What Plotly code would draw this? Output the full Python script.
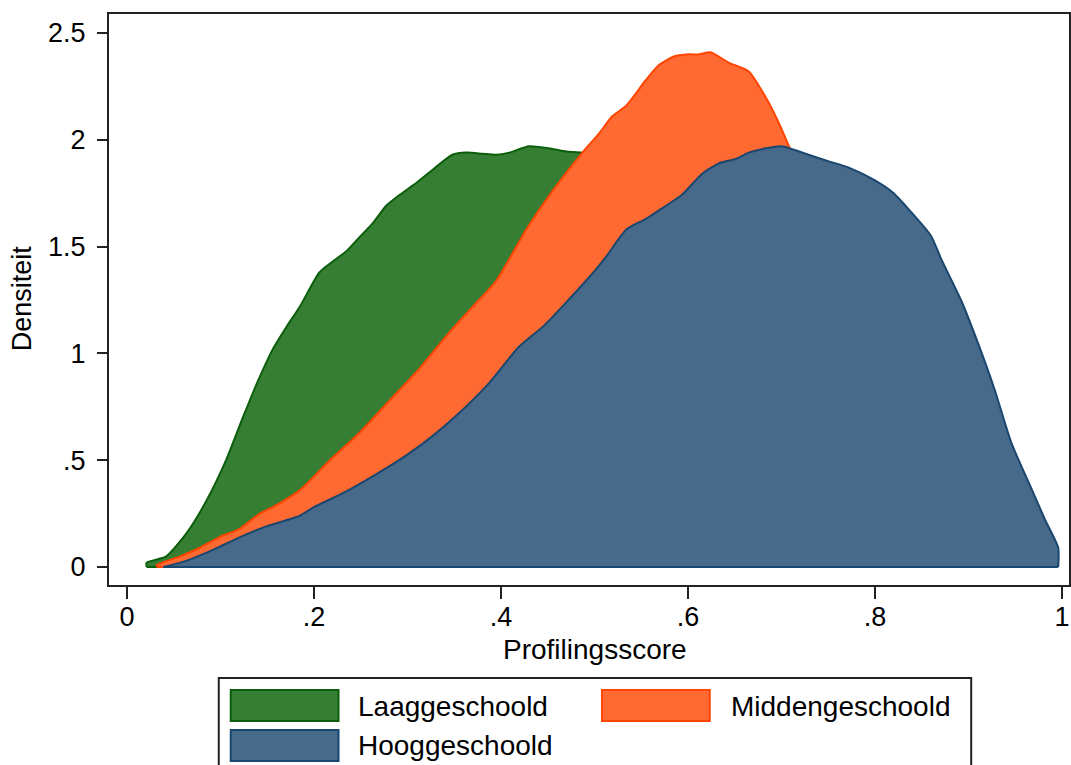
import plotly.graph_objects as go

# ---------------- data ----------------
low_x = [0.021, 0.021, 0.042, 0.064, 0.085, 0.106, 0.124, 0.140, 0.156, 0.170, 0.185,
         0.206, 0.220, 0.235, 0.250, 0.263, 0.277, 0.291, 0.310, 0.327, 0.348, 0.363,
         0.380, 0.395, 0.409, 0.430, 0.451, 0.470, 0.487, 0.520, 0.560, 0.600, 0.650,
         0.700, 0.750, 0.800, 0.850, 0.900, 0.950, 0.980, 0.980]
low_y = [0.00, 0.02, 0.05, 0.16, 0.31, 0.50, 0.70, 0.87, 1.02, 1.12, 1.22,
         1.38, 1.43, 1.48, 1.55, 1.61, 1.69, 1.74, 1.80, 1.86, 1.93, 1.94,
         1.935, 1.93, 1.94, 1.97, 1.96, 1.945, 1.94, 1.90, 1.82, 1.70, 1.50,
         1.25, 0.95, 0.68, 0.42, 0.20, 0.06, 0.02, 0.00]

mid_x = [0.032, 0.032, 0.057, 0.078, 0.099, 0.121, 0.142, 0.160, 0.185, 0.217, 0.249,
         0.281, 0.313, 0.345, 0.370, 0.395, 0.427, 0.455, 0.487, 0.505, 0.519, 0.534,
         0.555, 0.569, 0.585, 0.601, 0.612, 0.624, 0.644, 0.665, 0.683, 0.697, 0.708,
         0.720, 0.750, 0.800, 0.850, 0.900, 0.950, 0.980, 0.980]
mid_y = [0.00, 0.01, 0.05, 0.09, 0.14, 0.18, 0.25, 0.29, 0.36, 0.50, 0.63,
         0.78, 0.93, 1.10, 1.22, 1.34, 1.58, 1.76, 1.94, 2.03, 2.11, 2.16,
         2.28, 2.35, 2.39, 2.40, 2.40, 2.41, 2.36, 2.32, 2.20, 2.08, 1.97,
         1.85, 1.55, 1.05, 0.55, 0.22, 0.06, 0.01, 0.00]

high_x = [0.039, 0.064, 0.092, 0.121, 0.149, 0.185, 0.200, 0.233, 0.265, 0.291, 0.323,
          0.355, 0.387, 0.419, 0.446, 0.491, 0.512, 0.534, 0.555, 0.576, 0.593, 0.615,
          0.633, 0.651, 0.665, 0.683, 0.700, 0.729, 0.750, 0.772, 0.800, 0.820, 0.843,
          0.860, 0.871, 0.892, 0.910, 0.928, 0.946, 0.967, 0.982, 0.996, 0.996]
high_y = [0.00, 0.03, 0.08, 0.14, 0.19, 0.24, 0.28, 0.35, 0.43, 0.50, 0.60,
          0.72, 0.86, 1.03, 1.13, 1.34, 1.45, 1.58, 1.63, 1.69, 1.74, 1.84,
          1.89, 1.91, 1.94, 1.96, 1.97, 1.93, 1.90, 1.87, 1.81, 1.75, 1.64,
          1.55, 1.44, 1.25, 1.05, 0.83, 0.58, 0.37, 0.22, 0.09, 0.00]

series_names = ["Laaggeschoold", "Middengeschoold", "Hooggeschoold"]
x_ticks = [0, 0.2, 0.4, 0.6, 0.8, 1]
x_tick_labels = ["0", ".2", ".4", ".6", ".8", "1"]
y_ticks = [0, 0.5, 1, 1.5, 2, 2.5]
y_tick_labels = ["0", ".5", "1", "1.5", "2", "2.5"]
x_title = "Profilingsscore"
y_title = "Densiteit"

# ---------------- styles ----------------
FONT = "Liberation Sans, Arial, sans-serif"
fills = ["#367E33", "#FF6A32", "#476A8A"]
lines = ["#0B5E0B", "#FF4500", "#1A476F"]

W, H = 1071, 765
ML, MR, MT, MB = 109, 0, 14, 180
PW, PH = W - ML - MR, H - MT - MB


def px(xp):
    return (xp - ML) / PW


def py(yp):
    return (H - MB - yp) / PH


fig = go.Figure()
for xs, ys, name, fc, lc in zip([low_x, mid_x, high_x], [low_y, mid_y, high_y],
                                series_names, fills, lines):
    fig.add_trace(go.Scatter(
        x=xs, y=ys, mode="lines", fill="tozeroy",
        fillcolor=fc, line=dict(color=lc, width=2, shape="spline", smoothing=0.6),
        name=name, showlegend=False, hoverinfo="skip"))
    # baseline edge of the area
    fig.add_trace(go.Scatter(
        x=[xs[0], xs[-1]], y=[0, 0], mode="lines",
        line=dict(color=lc, width=2), showlegend=False, hoverinfo="skip"))

fig.update_layout(
    width=W, height=H,
    margin=dict(l=ML, r=MR, t=MT, b=MB),
    paper_bgcolor="white", plot_bgcolor="white",
    font=dict(family=FONT, size=27, color="black"),
    showlegend=False,
)
fig.update_xaxes(
    range=[-0.0192, 1.0075], tickvals=x_ticks, ticktext=x_tick_labels,
    showgrid=False, zeroline=False, showline=True, linecolor="#222",
    linewidth=2, mirror=True, ticks="outside", ticklen=12, tickwidth=2,
    tickcolor="#222", tickfont=dict(size=27), ticklabelstandoff=-5)
fig.update_yaxes(
    range=[-0.0843, 2.589], tickvals=y_ticks, ticktext=y_tick_labels,
    showgrid=False, zeroline=False, showline=True, linecolor="#222",
    linewidth=2, mirror=True, ticks="outside", ticklen=10, tickwidth=2,
    tickcolor="#222", tickfont=dict(size=27), ticklabelstandoff=6)

annotations = [
    dict(x=px(596), y=py(649), xref="paper", yref="paper", text=x_title,
         showarrow=False, xanchor="center", yanchor="middle",
         font=dict(size=28)),
    dict(x=px(22), y=py(298), xref="paper", yref="paper", text=y_title,
         showarrow=False, xanchor="center", yanchor="middle", textangle=-90,
         font=dict(size=27)),
]
shapes = [
    dict(type="rect", xref="paper", yref="paper", x0=px(219), x1=px(973),
         y0=py(800), y1=py(678), line=dict(color="#222", width=2),
         fillcolor="white", layer="below"),
]
legend_pos = [(231, 690, 357, 706), (603, 690, 730, 706), (231, 730, 357, 746)]
for (sx, sy, tx, ty), name, fc, lc in zip(legend_pos, series_names, fills, lines):
    shapes.append(dict(type="rect", xref="paper", yref="paper",
                       x0=px(sx), x1=px(sx + 108), y0=py(sy + 31), y1=py(sy),
                       line=dict(color=lc, width=2), fillcolor=fc))
    annotations.append(dict(x=px(tx), y=py(ty), xref="paper", yref="paper",
                            text=name, showarrow=False, xanchor="left",
                            yanchor="middle", font=dict(size=28)))

fig.update_layout(annotations=annotations, shapes=shapes)
fig.write_html("out.html",
               config={"displayModeBar": False},
               post_script="document.body.style.margin='0px';"
                           "document.body.style.overflow='hidden';")
